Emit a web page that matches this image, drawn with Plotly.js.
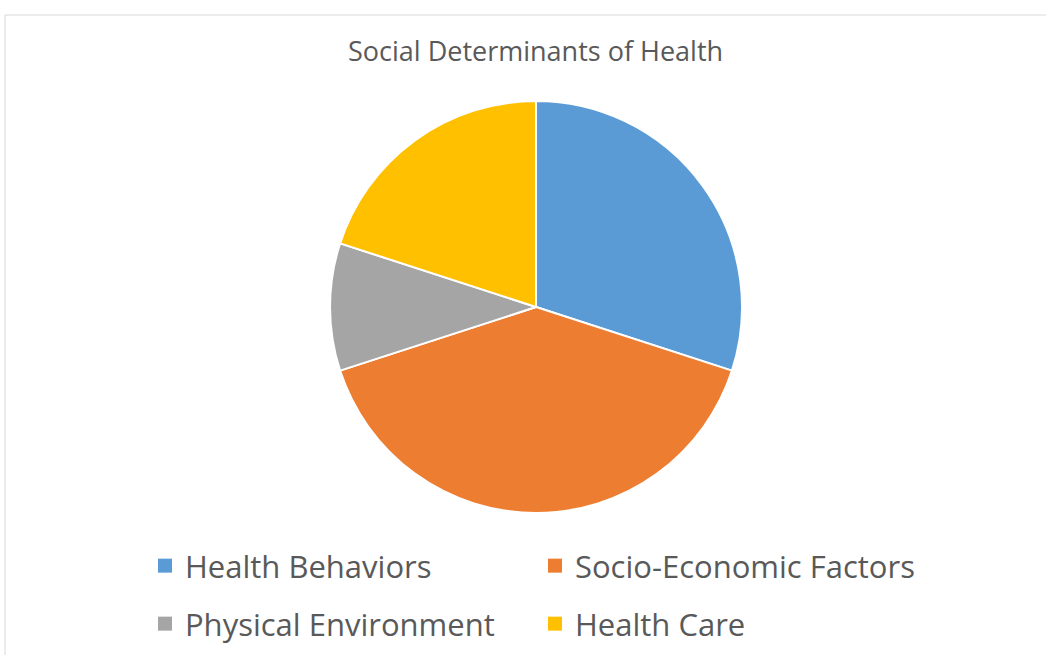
<!DOCTYPE html>
<html><head><meta charset="utf-8">
<script src="https://cdn.plot.ly/plotly-3.0.1.min.js"></script>
<style>html,body{margin:0;padding:0;background:#fff}#chart{width:1046px;height:655px}</style>
</head><body><div id="chart"></div>
<script>
const categories = ["Health Behaviors", "Socio-Economic Factors", "Physical Environment", "Health Care"];
const values = [30, 40, 10, 20];
const colors = ["#5B9BD5", "#ED7D31", "#A5A5A5", "#FFC000"];
const legendRows = ["legend", "legend", "legend2", "legend2"];

const pie = {
  type: "pie",
  labels: categories,
  values: values,
  sort: false,
  direction: "clockwise",
  rotation: 0,
  textinfo: "none",
  hoverinfo: "label+percent",
  showlegend: false,
  marker: {colors: colors, line: {color: "#ffffff", width: 2}},
  domain: {x: [0.3155, 0.7094], y: [0.2168, 0.8458]}
};

const legendTraces = categories.map((c, i) => ({
  type: "scatter", mode: "markers", x: [null], y: [null],
  name: c, legend: legendRows[i], showlegend: true, hoverinfo: "skip",
  marker: {symbol: "square", size: 14, color: colors[i]}
}));

const legendCommon = {
  orientation: "h", x: 0.1386, xanchor: "left", yanchor: "middle",
  entrywidth: 345, entrywidthmode: "pixels", traceorder: "normal",
  font: {size: 31, color: "#595959", family: "Open Sans, sans-serif"}, itemwidth: 30,
  bgcolor: "rgba(0,0,0,0)"
};

const layout = {
  width: 1046, height: 655,
  margin: {l: 0, r: 0, t: 0, b: 0},
  paper_bgcolor: "#ffffff",
  plot_bgcolor: "rgba(0,0,0,0)",
  font: {family: "Open Sans, sans-serif", color: "#595959"},
  xaxis: {visible: false},
  yaxis: {visible: false},
  title: {text: "Social Determinants of Health", x: 0.512, xanchor: "center", y: 1 - 52/655, yanchor: "middle", yref: "paper",
          font: {size: 27, color: "#595959", family: "Open Sans, sans-serif"}},
  showlegend: true,
  legend: Object.assign({}, legendCommon, {y: 1 - 566/655}),
  legend2: Object.assign({}, legendCommon, {y: 1 - 624/655}),
  shapes: [{type: "rect", xref: "paper", yref: "paper", x0: 5/1046, x1: 1.01, y0: -0.01, y1: 1 - 15/655,
            line: {color: "#d9d9d9", width: 1}, fillcolor: "rgba(0,0,0,0)"}]
};

Plotly.newPlot("chart", legendTraces.concat([pie]), layout, {displayModeBar: false, staticPlot: true});
</script></body></html>
